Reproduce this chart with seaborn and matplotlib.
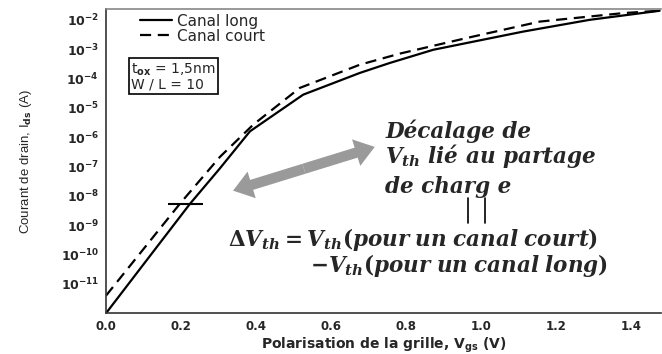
import numpy as np
import pandas as pd
import matplotlib
matplotlib.use("Agg")
import matplotlib.pyplot as plt
import seaborn as sns

# Gate bias (V) and log10 of drain current (A) for each channel length
vgs_long = [0.0, 0.09, 0.224, 0.304, 0.384, 0.526, 0.677, 0.757, 0.873, 1.113, 1.29, 1.477]
log_ids_long = [-12.0, -10.5, -8.27, -7.06, -5.80, -4.55, -3.81, -3.47, -3.02, -2.40, -2.0, -1.69]

vgs_short = [0.0, 0.197, 0.304, 0.393, 0.517, 0.677, 0.784, 0.962, 1.157, 1.38, 1.477]
log_ids_short = [-11.4, -8.27, -6.67, -5.57, -4.32, -3.53, -3.15, -2.62, -2.06, -1.77, -1.69]

series_names = ["Canal long", "Canal court"]
x_ticks = [0.0, 0.2, 0.4, 0.6, 0.8, 1.0, 1.2, 1.4]
y_exponents = [-11, -10, -9, -8, -7, -6, -5, -4, -3, -2]

# Threshold marker level and the double arrow ends (V, log10 A)
vth_level = -8.27
vth_span = [0.165, 0.259]
arrow_start = (0.339, -7.82)
arrow_end = (0.717, -6.33)

sns.set_style("white")
plt.rcParams["font.family"] = ["DejaVu Sans"]
plt.rcParams["mathtext.fontset"] = "custom"
plt.rcParams["mathtext.it"] = "DejaVu Serif:italic:bold"
plt.rcParams["mathtext.rm"] = "DejaVu Serif:bold"
plt.rcParams["mathtext.bf"] = "DejaVu Serif:bold"
plt.rcParams["mathtext.sf"] = "DejaVu Sans:bold"

df = pd.concat([
    pd.DataFrame({"Vgs": vgs_long, "Ids": 10.0 ** np.array(log_ids_long), "canal": series_names[0]}),
    pd.DataFrame({"Vgs": vgs_short, "Ids": 10.0 ** np.array(log_ids_short), "canal": series_names[1]}),
], ignore_index=True)

fig = plt.figure(figsize=(6.62, 3.54), dpi=100)
ax = fig.add_axes([0.1601, 0.115, 0.838, 0.8596])

sns.lineplot(data=df, x="Vgs", y="Ids", hue="canal", style="canal",
             palette=["black", "black"], dashes=[(), (5, 3)],
             linewidth=1.6, sort=False, ax=ax, legend=True)

ax.set_yscale("log")
ax.set_xlim(0, 1.48)
ax.set_ylim(1e-12, 10 ** -1.63)

ax.set_xticks(x_ticks)
ax.set_xticklabels([f"{v:.1f}" for v in x_ticks], fontsize=8.5, fontweight="bold")
ax.set_yticks([10.0 ** e for e in y_exponents])
ax.set_yticklabels([rf"$\mathsf{{10^{{{e}}}}}$" for e in y_exponents], fontsize=9)
ax.yaxis.set_minor_locator(plt.NullLocator())
ax.tick_params(axis="both", direction="in", width=1.2, color="#333333")
ax.tick_params(axis="y", length=11, pad=5)
ax.tick_params(axis="x", length=7, pad=5)

ax.set_xlabel(r"Polarisation de la grille, V$_{\mathsf{gs}}$ (V)", fontsize=10,
              fontweight="bold", labelpad=2)
ax.set_ylabel(r"Courant de drain, I$_{\mathsf{ds}}$ (A)", fontsize=9.5, labelpad=19,
              family=["Liberation Sans", "DejaVu Sans"])

for side in ["left", "bottom"]:
    ax.spines[side].set_color("#333333")
    ax.spines[side].set_linewidth(1.2)
ax.spines["top"].set_color("#888888")
ax.spines["top"].set_linewidth(1.2)
ax.spines["right"].set_visible(False)

ax.legend(loc="upper left", bbox_to_anchor=(0.050, 1.005), frameon=False,
          fontsize=11, handlelength=2.1, handletextpad=0.33,
          labelspacing=0.0, borderaxespad=0.0)

ax.text(0.045, 0.826, "t$_{\\mathsf{ox}}$ = 1,5nm\nW / L = 10", transform=ax.transAxes,
        fontsize=10, va="top", ha="left", linespacing=0.95,
        bbox=dict(boxstyle="square,pad=0.15", fc="white", ec="black", lw=1.2))

# Threshold crossing marker
ax.plot(vth_span, [10 ** vth_level] * 2, color="black", lw=1.5, solid_capstyle="butt")

# Double grey arrow
mid = ((arrow_start[0] + arrow_end[0]) / 2, (arrow_start[1] + arrow_end[1]) / 2)
for tip in (arrow_start, arrow_end):
    ax.annotate("", xy=(tip[0], 10 ** tip[1]), xytext=(mid[0], 10 ** mid[1]),
                arrowprops=dict(arrowstyle="simple,head_length=1.4,head_width=2.0,tail_width=0.75",
                                fc="#9a9a9a", ec="none", shrinkA=0, shrinkB=0))

serif = dict(family=["DejaVu Serif"], style="italic", weight="bold")
ax.text(0.503, 0.576, "Décalage de", transform=ax.transAxes, fontsize=15.5, va="baseline", **serif)
ax.text(0.503, 0.494, r"$V_{th}$ lié au partage", transform=ax.transAxes, fontsize=15.5,
        va="baseline", **serif)
ax.text(0.503, 0.395, "de charg e", transform=ax.transAxes, fontsize=15.5, va="baseline", **serif)
for xf in (0.652, 0.683):
    ax.plot([xf, xf], [0.379, 0.297], transform=ax.transAxes, color="black", lw=1.2)

ax.text(0.220, 0.222, r"$\Delta V_{th} = V_{th}(pour\;un\;canal\;court)$", transform=ax.transAxes,
        fontsize=15.5, va="baseline")
ax.text(0.368, 0.136, r"$-V_{th}(pour\;un\;canal\;long)$", transform=ax.transAxes,
        fontsize=15.5, va="baseline")

fig.savefig("out.png", dpi=100)
